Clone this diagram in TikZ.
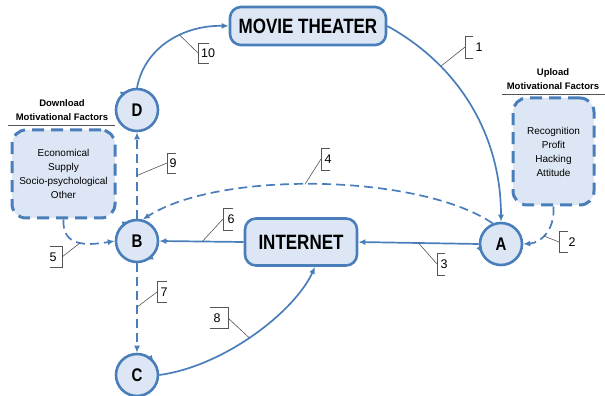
\documentclass[tikz,border=0pt]{standalone}
\usepackage{fontspec}
\setmainfont{Liberation Sans}
\usetikzlibrary{arrows.meta,calc}
\definecolor{lineblue}{HTML}{4A7EBB}
\definecolor{fillblue}{HTML}{DCE6F4}
\definecolor{leadgray}{HTML}{555555}
\newcommand{\tallt}[1]{\scalebox{1}[1.22]{#1}}
\begin{document}
\begin{tikzpicture}[x=1pt,y=1pt,
 tip/.style={-{Latex[length=7pt,width=6pt]}},
 conn/.style={draw=lineblue,line width=1.7pt,tip},
 dconn/.style={conn,dash pattern=on 9pt off 5pt},
 circ/.style={circle,draw=lineblue,fill=fillblue,line width=2.6pt,minimum size=42pt,inner sep=0pt,font=\fontsize{15}{15}\selectfont\bfseries},
 rbox/.style={rounded corners=11pt,draw=lineblue,fill=fillblue,line width=2.6pt,font=\fontsize{17}{17}\selectfont\bfseries,inner sep=0pt},
 mbox/.style={rounded corners=14pt,draw=lineblue,fill=fillblue,line width=3pt,dash pattern=on 12pt off 7pt,font=\fontsize{10}{14}\selectfont,align=center,inner sep=0pt},
 num/.style={font=\fontsize{12.5}{12.5}\selectfont,inner sep=0pt},
 brk/.style={draw=leadgray,line width=0.6pt},
 lead/.style={draw=leadgray,line width=0.6pt},
 ttl/.style={font=\fontsize{9.5}{14}\selectfont\bfseries,align=center,inner sep=0pt},
 uline/.style={draw=leadgray,line width=0.8pt},
 carc/.style={draw=lineblue,line width=1.8pt,tip},
]
\useasboundingbox (0,0) rectangle (605,396);

% main nodes
\node[rbox,minimum width=156pt,minimum height=38pt] (MT) at (308,370) {\tallt{MOVIE THEATER}};
\node[rbox,minimum width=112pt,minimum height=47pt] (NET) at (301,154) {\tallt{INTERNET}};
\node[circ] (D) at (137,286) {\tallt{D}};
\node[circ] (B) at (137,155) {\tallt{B}};
\node[circ] (C) at (137,21) {\tallt{C}};
\node[circ] (A) at (501,152) {\tallt{A}};

% factor boxes
\node[mbox,minimum width=103pt,minimum height=88pt] (dbox) at (63.5,222) {Economical\\Supply\\Socio-psychological\\Other};
\node[mbox,minimum width=81pt,minimum height=107pt] (ubox) at (553.5,244.5) {Recognition\\Profit\\Hacking\\Attitude};
\node[ttl] (dttl) at (62,286) {Download\\Motivational Factors};
\node[ttl] (uttl) at (553,317) {Upload\\Motivational Factors};
\draw[uline] (8,271) -- (115,271);
\draw[uline] (502,302) -- (605,302);

% connectors
\draw[conn] (MT.east) .. controls (460,330) and (501,260) .. (A.north) coordinate[pos=0.28] (p1);
\draw[dconn] (ubox.south) .. controls (555,165) and (540,153) .. (A.east) coordinate[pos=0.55] (p2);
\draw[conn] (A.west) -- (NET.east) coordinate[pos=0.5] (p3);
\draw[dconn] (A.112) .. controls (420,222) and (220,226) .. (B.75) coordinate[pos=0.535] (p4);
\draw[dconn] (dbox.south) .. controls (62,150) and (85,150) .. (B.west) coordinate[pos=0.55] (p5);
\draw[conn] (NET.west) -- (B.east) coordinate[pos=0.49] (p6);
\draw[dconn] (B.south) -- (C.north) coordinate[pos=0.49] (p7);
\draw[conn] (C.east) .. controls (225,30) and (295,85) .. ($(NET.south)+(14,0)$) coordinate[pos=0.47] (p8);
\draw[dconn] (B.north) -- (D.south) coordinate[pos=0.5] (p9);
\draw[conn] (D.north) .. controls (145,350) and (185,371) .. (MT.west) coordinate[pos=0.6] (p10);

% arrowheads on the circles
\draw[carc] ([shift={(B.center)}]132:21) arc[start angle=132,end angle=112,radius=21];
\draw[carc] ([shift={(B.center)}]-44:21) arc[start angle=-44,end angle=-64,radius=21];
\draw[carc] ([shift={(D.center)}]137:21) arc[start angle=137,end angle=117,radius=21];
\draw[carc] ([shift={(A.center)}]184:21) arc[start angle=184,end angle=206,radius=21];
\draw[carc] ([shift={(C.center)}]57:21) arc[start angle=57,end angle=37,radius=21];

% number callouts
\node[num] (n1) at (479,349) {1};
\draw[brk] ($(n1)+(-6,11)$) -- ($(n1)+(-14,11)$) -- ($(n1)+(-14,-11)$) -- ($(n1)+(-6,-11)$);
\draw[lead] (p1) -- ($(n1)+(-14,0)$);

\node[num] (n2) at (572,154) {2};
\draw[brk] ($(n2)+(-4,10.5)$) -- ($(n2)+(-13,10.5)$) -- ($(n2)+(-13,-10.5)$) -- ($(n2)+(-4,-10.5)$);
\draw[lead] (p2) -- ($(n2)+(-13,0)$);

\node[num] (n3) at (444,132) {3};
\draw[brk] ($(n3)+(1,11)$) -- ($(n3)+(-7,11)$) -- ($(n3)+(-7,-11)$) -- ($(n3)+(1,-11)$);
\draw[lead] (p3) -- ($(n3)+(-7,0)$);

\node[num] (n4) at (328,237) {4};
\draw[brk] ($(n4)+(2,11)$) -- ($(n4)+(-7,11)$) -- ($(n4)+(-7,-11)$) -- ($(n4)+(2,-11)$);
\draw[lead] (p4) -- ($(n4)+(-7,0)$);

\node[num] (n5) at (53,139) {5};
\draw[brk] ($(n5)+(-3,10.5)$) -- ($(n5)+(9,10.5)$) -- ($(n5)+(9,-10.5)$) -- ($(n5)+(-3,-10.5)$);
\draw[lead] (p5) -- ($(n5)+(9,0)$);

\node[num] (n6) at (231,177) {6};
\draw[brk] ($(n6)+(2,11)$) -- ($(n6)+(-8,11)$) -- ($(n6)+(-8,-11)$) -- ($(n6)+(2,-11)$);
\draw[lead] (p6) -- ($(n6)+(-8,0)$);

\node[num] (n7) at (164,104) {7};
\draw[brk] ($(n7)+(3,10.5)$) -- ($(n7)+(-7,10.5)$) -- ($(n7)+(-7,-10.5)$) -- ($(n7)+(3,-10.5)$);
\draw[lead] (p7) -- ($(n7)+(-7,0)$);

\node[num] (n8) at (217,78) {8};
\draw[brk] ($(n8)+(-7,10.5)$) -- ($(n8)+(11,10.5)$) -- ($(n8)+(11,-10.5)$) -- ($(n8)+(-7,-10.5)$);
\draw[lead] (p8) -- ($(n8)+(11,0)$);

\node[num] (n9) at (173,233) {9};
\draw[brk] ($(n9)+(3,10)$) -- ($(n9)+(-6,10)$) -- ($(n9)+(-6,-10)$) -- ($(n9)+(3,-10)$);
\draw[lead] (p9) -- ($(n9)+(-6,0)$);

\node[num] (n10) at (208,343) {10};
\draw[brk] ($(n10)+(1,10)$) -- ($(n10)+(-10,10)$) -- ($(n10)+(-10,-10)$) -- ($(n10)+(1,-10)$);
\draw[lead] (p10) -- ($(n10)+(-10,0)$);
\end{tikzpicture}
\end{document}
